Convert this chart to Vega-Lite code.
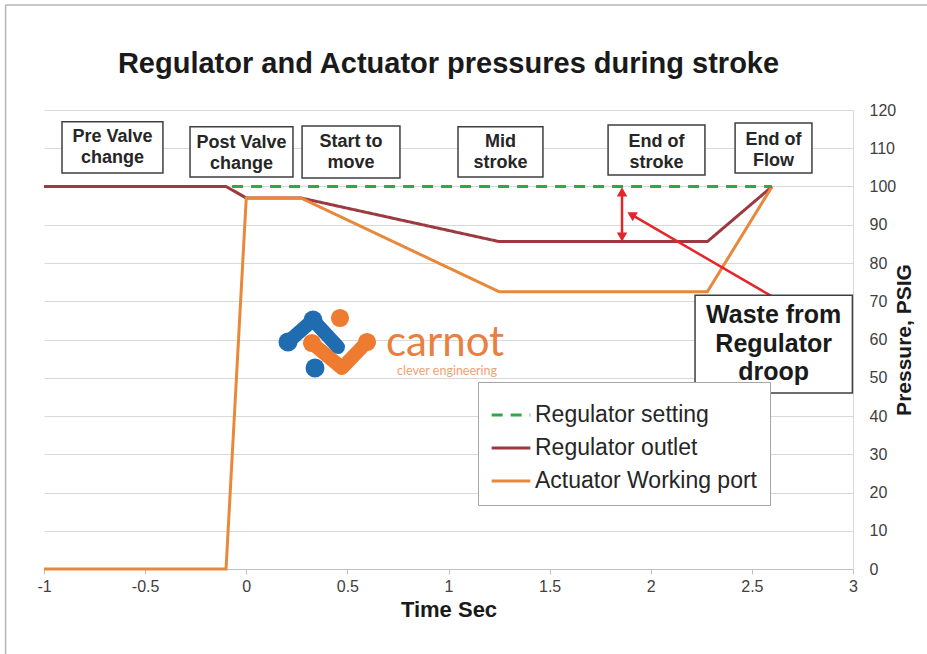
{
  "$schema": "https://vega.github.io/schema/vega-lite/v6.json",
  "width": 809,
  "height": 459,
  "autosize": {"type": "none"},
  "padding": {"left": 44, "top": 110, "right": 74, "bottom": 85},
  "background": "white",
  "config": {"view": {"stroke": null}, "font": "Liberation Sans"},
  "title": {"text": "Regulator and Actuator pressures during stroke", "fontSize": 29, "fontWeight": "bold", "color": "#1a1a1a", "anchor": "middle", "offset": -75, "font": "Liberation Sans"},
  "datasets": {
    "series": [
      {"series": "Regulator outlet", "o": 1, "t": -1, "p": 100},
      {"series": "Regulator outlet", "o": 2, "t": -0.1, "p": 100},
      {"series": "Regulator outlet", "o": 3, "t": 0, "p": 97},
      {"series": "Regulator outlet", "o": 4, "t": 0.27, "p": 97},
      {"series": "Regulator outlet", "o": 5, "t": 1.25, "p": 85.6},
      {"series": "Regulator outlet", "o": 6, "t": 2.28, "p": 85.6},
      {"series": "Regulator outlet", "o": 7, "t": 2.6, "p": 100},
      {"series": "Actuator Working port", "o": 1, "t": -1, "p": 0},
      {"series": "Actuator Working port", "o": 2, "t": -0.1, "p": 0},
      {"series": "Actuator Working port", "o": 3, "t": 0, "p": 97},
      {"series": "Actuator Working port", "o": 4, "t": 0.27, "p": 97},
      {"series": "Actuator Working port", "o": 5, "t": 1.25, "p": 72.5},
      {"series": "Actuator Working port", "o": 6, "t": 2.28, "p": 72.5},
      {"series": "Actuator Working port", "o": 7, "t": 2.6, "p": 100},
      {"series": "Regulator setting", "o": 1, "t": -0.07, "p": 100},
      {"series": "Regulator setting", "o": 2, "t": 2.6, "p": 100}
    ],
    "boxes": [
      {"label": "Pre Valve\nchange", "t": -0.911, "t2": -0.412, "p": 116.9, "p2": 103.5, "tc": -0.661, "pc": 112.9},
      {"label": "Post Valve\nchange", "t": -0.278, "t2": 0.231, "p": 115.6, "p2": 102.5, "tc": -0.023, "pc": 111.4},
      {"label": "Start to\nmove", "t": 0.276, "t2": 0.76, "p": 115.8, "p2": 102.2, "tc": 0.518, "pc": 111.6},
      {"label": "Mid\nstroke", "t": 1.047, "t2": 1.467, "p": 115.6, "p2": 102.5, "tc": 1.257, "pc": 111.6},
      {"label": "End of\nstroke", "t": 1.789, "t2": 2.268, "p": 116.1, "p2": 103.0, "tc": 2.029, "pc": 111.6},
      {"label": "End of\nFlow", "t": 2.417, "t2": 2.797, "p": 116.6, "p2": 103.5, "tc": 2.607, "pc": 112.2}
    ],
    "waste": [
      {"label": "Waste from\nRegulator\ndroop", "t": 2.219, "t2": 2.997, "p": 71.6, "p2": 46.0, "tc": 2.608, "pc": 66.4}
    ],
    "arrows": [
      {"t": 1.858, "p": 98.5, "t2": 1.858, "p2": 87.2},
      {"t": 2.595, "p": 71.4, "t2": 1.896, "p2": 92.9}
    ],
    "heads": [
      {"t": 1.858, "p": 98.6, "a": 0},
      {"t": 1.858, "p": 86.8, "a": 180},
      {"t": 1.904, "p": 92.7, "a": 300}
    ],
    "frame": [
      {"t": -1.19, "t2": 3.4, "p": 147.45, "p2": 147.45},
      {"t": -1.19, "t2": -1.19, "p": 147.45, "p2": -23}
    ],
    "logoBluePath": [
      {"o": 1, "t": 0.2064, "p": 59.35},
      {"o": 2, "t": 0.33, "p": 65.1},
      {"o": 3, "t": 0.4536, "p": 58.04}
    ],
    "logoOrangePath": [
      {"o": 1, "t": 0.3251, "p": 59.08},
      {"o": 2, "t": 0.4734, "p": 52.55},
      {"o": 3, "t": 0.597, "p": 59.35}
    ],
    "logoBlueDots": [
      {"t": 0.2064, "p": 59.35},
      {"t": 0.33, "p": 65.1},
      {"t": 0.3399, "p": 52.55}
    ],
    "logoOrangeDots": [
      {"t": 0.4635, "p": 65.62},
      {"t": 0.597, "p": 59.35},
      {"t": 0.3251, "p": 59.08}
    ],
    "logoText": [
      {"txt": "carnot", "t": 0.983, "p": 55.8}
    ],
    "logoSub": [
      {"txt": "clever engineering", "t": 0.993, "p": 50.7}
    ]
  },
  "encoding": {
    "x": {"field": "t", "type": "quantitative",
      "scale": {"domain": [-1, 3], "nice": false, "zero": false},
      "axis": {"orient": "bottom", "values": [-1, -0.5, 0, 0.5, 1, 1.5, 2, 2.5, 3], "tickCount": 20, "labelExpr": "datum.value + ''", "grid": false, "domainColor": "#bfbfbf", "ticks": true, "tickColor": "#bfbfbf", "tickSize": 5, "labelFontSize": 16, "labelColor": "#404040", "labelPadding": 4, "labelFlush": false, "labelOverlap": false, "labelBound": false, "title": "Time Sec", "titleFontSize": 22, "titleFontWeight": "bold", "titleColor": "#1a1a1a", "titlePadding": 5}},
    "y": {"field": "p", "type": "quantitative",
      "scale": {"domain": [0, 120], "nice": false, "zero": false},
      "axis": {"orient": "right", "values": [0, 10, 20, 30, 40, 50, 60, 70, 80, 90, 100, 110, 120], "tickCount": 20, "grid": true, "gridColor": "#d9d9d9", "domain": true, "domainColor": "#d9d9d9", "ticks": false, "labelFontSize": 16, "labelColor": "#404040", "labelPadding": 16, "labelOverlap": false, "labelFlush": false, "labelBound": false, "title": "Pressure, PSIG", "titleFontSize": 21, "titleFontWeight": "bold", "titleColor": "#1a1a1a", "titleAngle": 270, "titlePadding": 19}}
  },
  "layer": [
    {
      "data": {"name": "frame"},
      "mark": {"type": "rule", "clip": false, "color": "#b4b4b4", "strokeWidth": 1.5},
      "encoding": {
        "x2": {"field": "t2"},
        "y2": {"field": "p2"}
      }
    },
    {
      "data": {"name": "series"},
      "mark": {"type": "line", "strokeWidth": 3},
      "encoding": {
        "order": {"field": "o", "type": "quantitative"},
        "color": {"field": "series", "type": "nominal",
          "scale": {"domain": ["Regulator setting", "Regulator outlet", "Actuator Working port"], "range": ["#2ea84a", "#9b3a40", "#e8883a"]},
          "legend": {"orient": "none", "legendX": 434, "legendY": 272, "title": null, "symbolType": "stroke", "symbolSize": 1500, "symbolStrokeWidth": 3, "labelFontSize": 23, "labelColor": "#262626", "labelLimit": 400, "strokeColor": "#a6a6a6", "fillColor": "white", "padding": 12, "rowPadding": 0, "labelOffset": 3, "labelFont": "Liberation Sans"}},
        "strokeDash": {"field": "series", "type": "nominal",
          "scale": {"domain": ["Regulator setting", "Regulator outlet", "Actuator Working port"], "range": [[11, 8], [1, 0], [1, 0]]},
          "legend": {"orient": "none", "legendX": 434, "legendY": 272, "title": null, "symbolType": "stroke", "symbolSize": 1500, "symbolStrokeWidth": 3, "labelFontSize": 23, "labelColor": "#262626", "labelLimit": 400, "strokeColor": "#a6a6a6", "fillColor": "white", "padding": 12, "rowPadding": 0, "labelOffset": 3, "labelFont": "Liberation Sans"}}
      }
    },
    {
      "data": {"name": "arrows"},
      "mark": {"type": "rule", "color": "#e3262b", "strokeWidth": 2.5},
      "encoding": {
        "x2": {"field": "t2"},
        "y2": {"field": "p2"}
      }
    },
    {
      "data": {"name": "heads"},
      "mark": {"type": "point", "shape": "triangle-up", "filled": true, "color": "#e3262b", "size": 110, "opacity": 1},
      "encoding": {
        "angle": {"field": "a", "type": "quantitative", "scale": null}
      }
    },
    {
      "data": {"name": "boxes"},
      "mark": {"type": "rect", "fill": "white", "stroke": "#3f3f3f", "strokeWidth": 1.5},
      "encoding": {
        "x2": {"field": "t2"},
        "y2": {"field": "p2"}
      }
    },
    {
      "data": {"name": "boxes"},
      "mark": {"type": "text", "font": "Liberation Sans", "fontWeight": "bold", "fontSize": 18, "lineHeight": 21, "lineBreak": "\n", "color": "#262626", "align": "center", "baseline": "middle"},
      "encoding": {
        "x": {"field": "tc", "type": "quantitative"},
        "y": {"field": "pc", "type": "quantitative"},
        "text": {"field": "label"}
      }
    },
    {
      "data": {"name": "waste"},
      "mark": {"type": "rect", "fill": "white", "stroke": "#3f3f3f", "strokeWidth": 1.5},
      "encoding": {
        "x2": {"field": "t2"},
        "y2": {"field": "p2"}
      }
    },
    {
      "data": {"name": "waste"},
      "mark": {"type": "text", "font": "Liberation Sans", "fontWeight": "bold", "fontSize": 25, "lineHeight": 28.5, "lineBreak": "\n", "color": "#1a1a1a", "align": "center", "baseline": "middle"},
      "encoding": {
        "x": {"field": "tc", "type": "quantitative"},
        "y": {"field": "pc", "type": "quantitative"},
        "text": {"field": "label"}
      }
    },
    {
      "data": {"name": "logoOrangePath"},
      "mark": {"type": "line", "color": "#ee7b30", "strokeWidth": 14, "strokeCap": "round", "strokeJoin": "round"},
      "encoding": {
        "order": {"field": "o", "type": "quantitative"}
      }
    },
    {
      "data": {"name": "logoBluePath"},
      "mark": {"type": "line", "color": "#1f6db0", "strokeWidth": 14, "strokeCap": "round", "strokeJoin": "round"},
      "encoding": {
        "order": {"field": "o", "type": "quantitative"}
      }
    },
    {
      "data": {"name": "logoBlueDots"},
      "mark": {"type": "point", "shape": "circle", "filled": true, "color": "#1f6db0", "size": 360, "opacity": 1},
      "encoding": {}
    },
    {
      "data": {"name": "logoOrangeDots"},
      "mark": {"type": "point", "shape": "circle", "filled": true, "color": "#ee7b30", "size": 330, "opacity": 1},
      "encoding": {}
    },
    {
      "data": {"name": "logoText"},
      "mark": {"type": "text", "font": "Lato", "fontSize": 42, "color": "#e8803f", "align": "center", "baseline": "alphabetic"},
      "encoding": {
        "text": {"field": "txt"}
      }
    },
    {
      "data": {"name": "logoSub"},
      "mark": {"type": "text", "font": "Lato", "fontSize": 12.5, "color": "#eea276", "align": "center", "baseline": "alphabetic"},
      "encoding": {
        "text": {"field": "txt"}
      }
    }
  ]
}
